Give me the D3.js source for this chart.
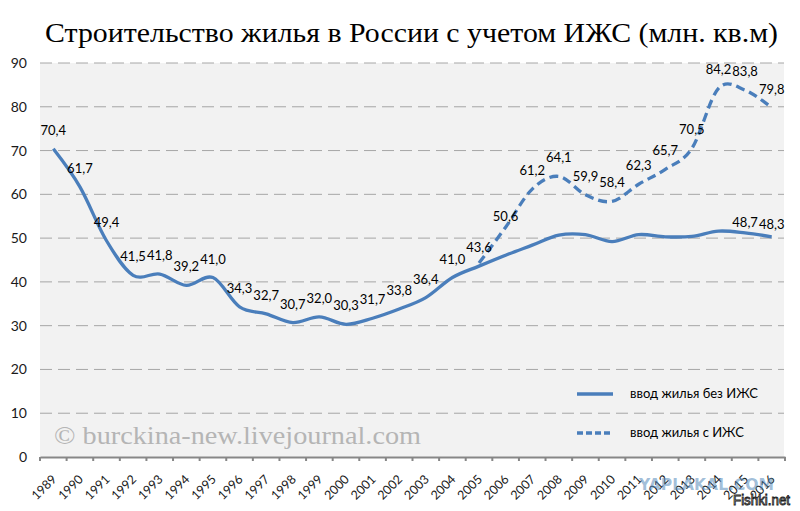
<!DOCTYPE html>
<html>
<head>
<meta charset="utf-8">
<script src="https://cdn.jsdelivr.net/npm/d3@7"></script>
<style>
  html, body { margin: 0; padding: 0; background: #ffffff; }
  svg { display: block; }
</style>
</head>
<body>
<svg id="chart" width="800" height="511"></svg>
<script>
// ---------- DATA ----------
const years = ["1989","1990","1991","1992","1993","1994","1995","1996","1997","1998","1999","2000","2001","2002","2003","2004","2005","2006","2007","2008","2009","2010","2011","2012","2013","2014","2015","2016"];

// ввод жилья без ИЖС (solid line)
const withoutIzhs = [70.4,61.7,49.4,41.5,41.8,39.2,41.0,34.3,32.7,30.7,32.0,30.3,31.7,33.8,36.4,41.0,43.6,46.1,48.4,50.7,50.8,49.2,50.8,50.3,50.4,51.6,51.2,50.3];
const withoutIzhsLabels = ["70,4","61,7","49,4","41,5","41,8","39,2","41,0","34,3","32,7","30,7","32,0","30,3","31,7","33,8","36,4","41,0","43,6",null,null,null,null,null,null,null,null,null,"48,7","48,3"];

// ввод жилья с ИЖС (dashed line)
const withIzhs = [null,null,null,null,null,null,null,null,null,null,null,null,null,null,null,null,44.3,52.5,61.2,64.1,59.9,58.4,62.3,65.7,70.5,84.2,83.8,79.8];
const withIzhsLabels = [null,null,null,null,null,null,null,null,null,null,null,null,null,null,null,null,null,"50,6","61,2","64,1","59,9","58,4","62,3","65,7","70,5","84,2","83,8","79,8"];

const yTicks = [0,10,20,30,40,50,60,70,80,90];
const seriesNames = ["ввод жилья без ИЖС", "ввод жилья с ИЖС"];
const titleText = "Строительство жилья в России с учетом ИЖС (млн. кв.м)";
const watermarkText = "© burckina-new.livejournal.com";

// ---------- LAYOUT ----------
const svg = d3.select("#chart");
const font = "Lato, 'Open Sans', sans-serif";
const lineColor = "#4a7ebb";

const x = d3.scaleBand().domain(years).range([40, 785]).padding(0);
const y = d3.scaleLinear().domain([0, 90]).range([457, 63]);
const cx = d => x(d) + x.bandwidth() / 2;

// plot background
svg.append("rect")
  .attr("x", x.range()[0]).attr("y", y(90))
  .attr("width", x.range()[1] - x.range()[0] - 1)
  .attr("height", y(0) - y(90))
  .attr("fill", "#f2f2f2");

// gridlines
svg.append("g").selectAll("line")
  .data(yTicks.filter(t => t > 0))
  .join("line")
  .attr("x1", x.range()[0]).attr("x2", x.range()[1] - 1)
  .attr("y1", d => y(d)).attr("y2", d => y(d))
  .attr("stroke", "#a6a6a6").attr("stroke-width", 1)
  .attr("stroke-dasharray", "12,6");

// watermark
svg.append("text")
  .attr("x", 54).attr("y", 444)
  .attr("font-family", "'Liberation Serif', serif")
  .attr("font-size", 25)
  .attr("fill", "#b5b5b5")
  .attr("textLength", 367).attr("lengthAdjust", "spacingAndGlyphs")
  .text(watermarkText);

// y axis (labels only)
const yAxis = svg.append("g")
  .attr("transform", `translate(${x.range()[0]},0)`)
  .call(d3.axisLeft(y).tickValues(yTicks).tickSize(0).tickPadding(13).tickFormat(d3.format("d")));
yAxis.select(".domain").remove();
yAxis.selectAll("text")
  .attr("font-family", font).attr("font-size", 14).attr("fill", "#1a1a1a");

// x axis
const xAxis = svg.append("g")
  .attr("transform", `translate(0,${y(0)})`)
  .call(d3.axisBottom(x).tickSize(0).tickFormat(""));
xAxis.select(".domain").attr("stroke", "#878787").attr("stroke-width", 2.2);
const boundaries = years.map(d => x(d)).concat([x.range()[1]]);
xAxis.selectAll(".bound").data(boundaries).join("line")
  .attr("class", "bound")
  .attr("x1", d => d).attr("x2", d => d)
  .attr("y1", 0).attr("y2", 4)
  .attr("stroke", "#878787").attr("stroke-width", 2);
xAxis.selectAll(".tick").remove();
svg.append("g").selectAll("text")
  .data(years).join("text")
  .attr("transform", d => `translate(${cx(d) + 4},${y(0) + 23}) rotate(-45)`)
  .attr("text-anchor", "end")
  .attr("font-family", font).attr("font-size", 12.5).attr("fill", "#1a1a1a")
  .text(d => d);

// yaplakal watermark
svg.append("text")
  .attr("x", 639).attr("y", 490)
  .attr("font-family", "'DejaVu Sans', sans-serif").attr("font-weight", "bold")
  .attr("font-size", 15)
  .attr("fill", "rgba(80,135,185,0.55)")
  .attr("textLength", 135).attr("lengthAdjust", "spacingAndGlyphs")
  .text("YAPLAKAL.COM");

// lines
const curve = d3.curveCardinal.tension(0);
const solidPts = years.map((d, i) => ({ year: d, v: withoutIzhs[i], lab: withoutIzhsLabels[i] }));
const dashPts = years.map((d, i) => ({ year: d, v: withIzhs[i], lab: withIzhsLabels[i] })).filter(p => p.v != null);

const line = d3.line().x(p => cx(p.year)).y(p => y(p.v)).curve(curve);

svg.append("path")
  .datum(dashPts)
  .attr("d", line)
  .attr("fill", "none").attr("stroke", lineColor)
  .attr("stroke-width", 3.3).attr("stroke-dasharray", "9,5");

svg.append("path")
  .datum(solidPts)
  .attr("d", line)
  .attr("fill", "none").attr("stroke", lineColor)
  .attr("stroke-width", 3.3).attr("stroke-linejoin", "round");

// data labels
const labelDy = { "2015s": 8, "2016s": 6, "2006d": 8 };
function addLabels(pts, key) {
  svg.append("g").selectAll("text")
    .data(pts.filter(p => p.lab))
    .join("text")
    .attr("x", p => cx(p.year))
    .attr("y", p => y(p.v) - 14 + (labelDy[p.year + key] || 0))
    .attr("text-anchor", "middle")
    .attr("font-family", font).attr("font-size", 13).attr("fill", "#000")
    .text(p => p.lab);
}
addLabels(solidPts, "s");
addLabels(dashPts, "d");

// legend
const leg = svg.append("g");
leg.append("line").attr("x1", 577).attr("x2", 613).attr("y1", 394).attr("y2", 394)
  .attr("stroke", lineColor).attr("stroke-width", 3.3);
leg.append("line").attr("x1", 577).attr("x2", 613).attr("y1", 433).attr("y2", 433)
  .attr("stroke", lineColor).attr("stroke-width", 3.3).attr("stroke-dasharray", "6,3");
leg.selectAll("text").data(seriesNames).join("text")
  .attr("x", 630).attr("y", (d, i) => 398 + i * 39)
  .attr("font-family", font).attr("font-size", 13).attr("fill", "#000")
  .text(d => d);

// title
svg.append("text")
  .attr("x", 45).attr("y", 42)
  .attr("font-family", "'Liberation Serif', serif")
  .attr("font-size", 28).attr("fill", "#000")
  .attr("textLength", 733).attr("lengthAdjust", "spacingAndGlyphs")
  .text(titleText);

// Fishki.net mark
svg.append("text")
  .attr("x", 733).attr("y", 505)
  .attr("font-family", "'Liberation Sans', Arial, sans-serif")
  .attr("font-size", 14)
  .attr("fill", "#ffffff").attr("stroke", "#222").attr("stroke-width", 0.9)
  .attr("textLength", 57).attr("lengthAdjust", "spacingAndGlyphs")
  .text("Fishki.net");
</script>
</body>
</html>
